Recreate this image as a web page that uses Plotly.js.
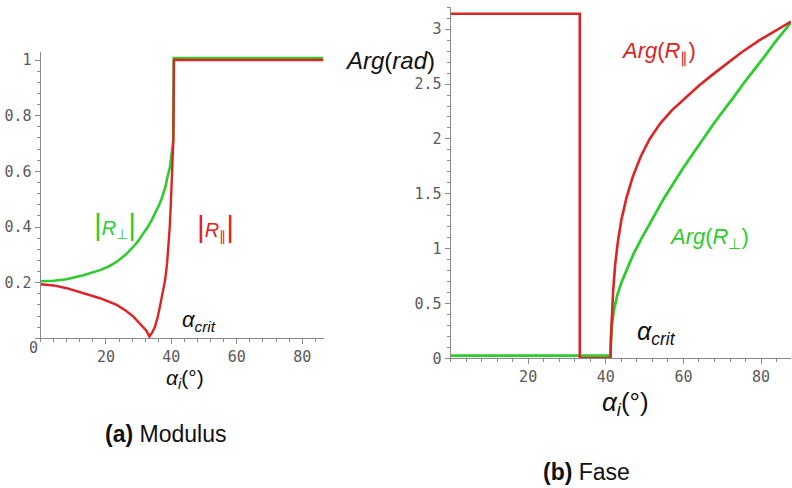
<!DOCTYPE html>
<html>
<head>
<meta charset="utf-8">
<script src="https://cdn.plot.ly/plotly-3.0.1.min.js"></script>
<style>html,body{margin:0;padding:0;background:#fff;}#chart{width:792px;height:488px;}</style>
</head>
<body>
<div id="chart"></div>
<script>
// ---- (a) Modulus : |R_perp| and |R_par| vs incidence angle (deg) ----
const angPerpMod = [0, 4, 8, 13.1, 18.2, 21, 23.3, 26, 28.4, 30, 31.4, 32.8, 34, 35.1, 36, 36.9, 37.6, 38.2, 38.6, 39.1, 39.6, 40.1, 40.6, 40.7, 86.5];
const perpMod    = [0.205, 0.207, 0.212, 0.227, 0.245, 0.259, 0.275, 0.3, 0.329, 0.352, 0.377, 0.4, 0.425, 0.449, 0.473, 0.497, 0.521, 0.545, 0.569, 0.593, 0.617, 0.665, 0.712, 1.007, 1.007];
const angParMod  = [0, 4, 8, 13.1, 18.2, 23.3, 26, 28.4, 30.9, 32.3, 33.3, 34.2, 35, 35.8, 36.5, 37.3, 38.1, 38.7, 39.1, 39.5, 39.8, 40.3, 40.6, 40.8, 86.5];
const parMod     = [0.194, 0.19, 0.18, 0.162, 0.144, 0.12, 0.1, 0.078, 0.048, 0.028, 0.006, 0.022, 0.042, 0.075, 0.114, 0.16, 0.21, 0.27, 0.33, 0.4, 0.473, 0.593, 0.712, 1.0, 1.0];

// ---- (b) Fase : Arg(R_par) and Arg(R_perp) in rad ----
const angParArg  = [0, 33.3, 33.3, 41.2, 41.35, 41.6, 41.9, 42.4, 43.1, 44, 45.3, 47, 49, 51.3, 54, 57, 60, 64.1, 68, 71, 75, 79.6, 84, 87.7];
const parArg     = [3.1416, 3.1416, 0, 0, 0.2, 0.45, 0.62, 0.85, 1.06, 1.26, 1.46, 1.66, 1.84, 2.0, 2.14, 2.26, 2.36, 2.49, 2.6, 2.68, 2.79, 2.9, 2.99, 3.07];
const angPerpArg = [0, 41.2, 41.3, 41.6, 42.2, 43, 44, 45.5, 47, 49, 51.3, 55, 60, 64.1, 68, 72.7, 76, 80.4, 84, 87.7];
const perpArg    = [0.025, 0.025, 0.15, 0.32, 0.46, 0.58, 0.69, 0.82, 0.94, 1.08, 1.23, 1.46, 1.74, 1.95, 2.15, 2.37, 2.53, 2.73, 2.9, 3.06];

// tick labels
const modYTicks = [0, 0.2, 0.4, 0.6, 0.8, 1];
const modYText  = ['', '0.2', '0.4', '0.6', '0.8', '1'];
const argYTicks = [0, 0.5, 1, 1.5, 2, 2.5, 3];
const argYText  = ['0', '0.5', '1', '1.5', '2', '2.5', '3'];
const angTicks  = [20, 40, 60, 80];
const angText   = ['20', '40', '60', '80'];

const GREEN = '#2ecc2e';
const RED = '#dd2424';
const W = 792, H = 488;
const px = x => x / W;
const py = y => 1 - y / H;

const traces = [
  {x: angPerpMod, y: perpMod, xaxis: 'x', yaxis: 'y', mode: 'lines', line: {color: GREEN, width: 2.6}, hoverinfo: 'skip'},
  {x: angParMod, y: parMod, xaxis: 'x', yaxis: 'y', mode: 'lines', line: {color: RED, width: 2.4}, hoverinfo: 'skip'},
  {x: angPerpArg, y: perpArg, xaxis: 'x2', yaxis: 'y2', mode: 'lines', line: {color: GREEN, width: 2.8}, hoverinfo: 'skip'},
  {x: angParArg, y: parArg, xaxis: 'x2', yaxis: 'y2', mode: 'lines', line: {color: RED, width: 2.6}, hoverinfo: 'skip'}
];

const tickFont = {family: 'DejaVu Sans Mono', size: 15, color: '#5a5a5a'};
function axis(extra) {
  return Object.assign({
    showgrid: false, zeroline: false, showline: true, linecolor: '#8a8a8a', linewidth: 1,
    ticks: 'outside', ticklen: 5, tickcolor: '#8a8a8a', tickwidth: 1,
    tickfont: tickFont, tickmode: 'array', fixedrange: true
  }, extra);
}

const layout = {
  width: W, height: H,
  margin: {l: 0, r: 0, t: 0, b: 0},
  paper_bgcolor: '#fff', plot_bgcolor: '#fff',
  showlegend: false,
  xaxis: axis({domain: [px(40.5), px(323.5)], range: [0, 86.5], anchor: 'y',
    tickvals: angTicks, ticktext: angText,
    minor: {dtick: 4, tick0: 0, ticks: 'outside', ticklen: 3, tickcolor: '#8a8a8a'}}),
  yaxis: axis({domain: [py(338.3), py(51.7)], range: [0, 1.03], anchor: 'x',
    tickvals: modYTicks, ticktext: modYText,
    minor: {dtick: 0.04, tick0: 0, ticks: 'outside', ticklen: 3, tickcolor: '#8a8a8a'}}),
  xaxis2: axis({domain: [px(450.5), px(791)], range: [0, 87.7], anchor: 'y2',
    tickvals: angTicks, ticktext: angText,
    minor: {dtick: 4, tick0: 0, ticks: 'outside', ticklen: 3, tickcolor: '#8a8a8a'}}),
  yaxis2: axis({domain: [py(358.3), py(7.3)], range: [0, 3.2], anchor: 'x2',
    tickvals: argYTicks, ticktext: argYText,
    minor: {dtick: 0.1, tick0: 0, ticks: 'outside', ticklen: 3, tickcolor: '#8a8a8a'}}),
  annotations: []
};

function ann(x, y, text, size, color, family) {
  layout.annotations.push({
    xref: 'paper', yref: 'paper', x: px(x), y: py(y), text: text, showarrow: false,
    xanchor: 'center', yanchor: 'middle', borderpad: 0,
    font: {family: family || 'Liberation Sans, Arial, sans-serif', size: size, color: color || '#111'}
  });
}

const bar = "<span style='font-size:30px;font-weight:100'>|</span>";
// origin label of the modulus panel (drawn below the corner as in the reference)
ann(33, 348, '0', 15, '#5a5a5a', 'DejaVu Sans Mono');
// left panel texts
ann(185, 379, '<i>α</i><sub><i>i</i></sub>(°)', 21);
ann(199, 321, '<i>α<sub>crit</sub></i>', 22);
ann(115, 225, bar + '<i>R</i><sub>⊥</sub>' + bar, 20, GREEN);
ann(215, 227, bar + '<i>R</i><sub>∥</sub>' + bar, 20, RED);
// right panel texts
ann(625, 403, '<i>α</i><sub><i>i</i></sub>(°)', 26);
ann(656, 333, '<i>α<sub>crit</sub></i>', 25);
ann(658, 52, '<i>Arg</i>(<i>R</i><sub>∥</sub>)', 22, RED);
ann(709, 238, '<i>Arg</i>(<i>R</i><sub>⊥</sub>)', 22, GREEN);
ann(390, 60, '<i>Arg</i>(<i>rad</i>)', 24, '#111');
// captions
ann(165, 434, '<b>(a)</b> Modulus', 23, '#111');
ann(586, 472, '<b>(b)</b> Fase', 23, '#111');

Plotly.newPlot('chart', traces, layout, {staticPlot: true, displayModeBar: false});
</script>
</body>
</html>
